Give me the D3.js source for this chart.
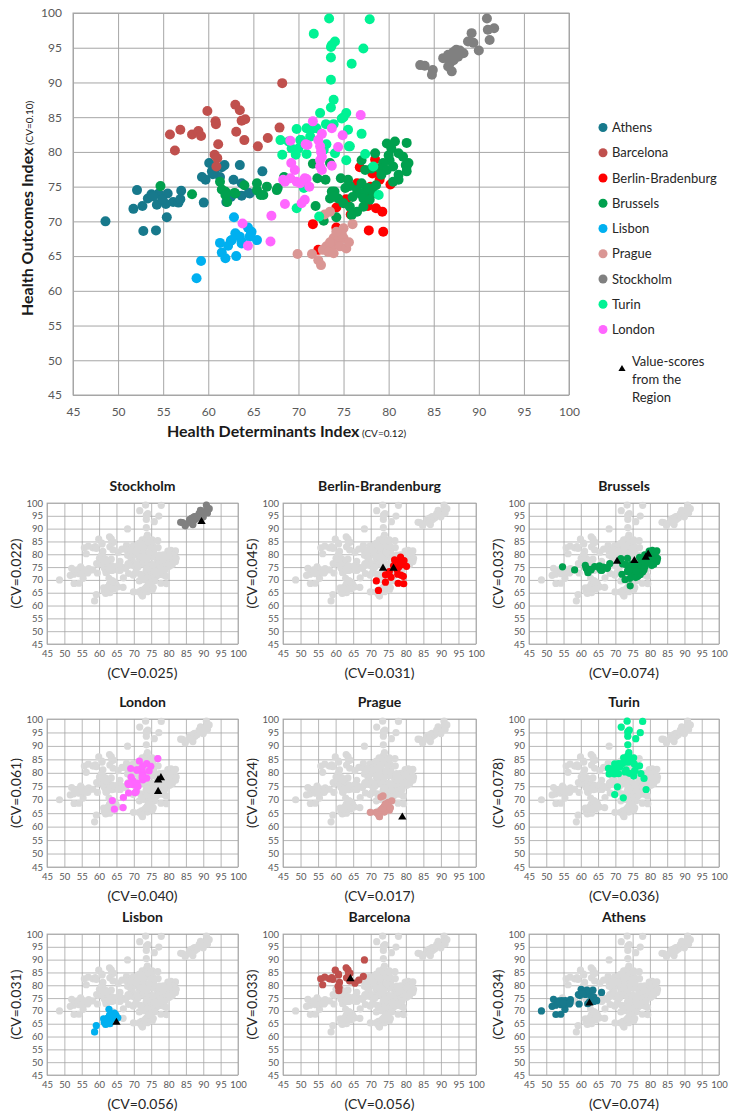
<!DOCTYPE html>
<html><head><meta charset="utf-8">
<script src="https://cdn.jsdelivr.net/npm/d3@7"></script>
<style>body{margin:0;background:#fff} text{font-family:Lato,"Open Sans",sans-serif}</style>
</head><body><svg id="c" width="735" height="1112"></svg>
<script>
// ---------- DATA ----------
const regions = ["Athens","Barcelona","Berlin-Brandenburg","Brussels","Lisbon","Prague","Stockholm","Turin","London"];
const legendLabels = ["Athens","Barcelona","Berlin-Bradenburg","Brussels","Lisbon","Prague","Stockholm","Turin","London"];
const colors = ["#17798C","#C0504D","#FF0000","#00A04E","#00B0F0","#DA9694","#808080","#00F294","#FF66FF"];
const ticks = [45,50,55,60,65,70,75,80,85,90,95,100];

const athens = [[48.6,70.0],[52.1,74.5],[51.7,71.8],[52.7,72.2],[52.8,68.6],[53.3,73.3],[53.7,73.9],[54.3,72.4],[54.2,68.7],[54.5,74.0],[55.5,74.0],[55.4,70.6],[55.3,72.5],[56.1,72.8],[56.7,72.7],[57.0,74.4],[56.9,73.2],[53.9,73.6],[54.9,73.2],[59.5,72.7],[59.7,76.0],[59.3,76.4],[60.1,78.4],[60.4,77.2],[60.7,77.2],[61.8,78.1],[61.3,76.4],[63.5,78.1],[62.8,76.0],[63.7,75.5],[62.0,72.8],[63.7,73.7],[64.5,74.1],[64.6,74.0],[66.0,77.2],[62.5,73.5],[61.5,77.8],[60.5,76.8]];
const barcelona = [[55.75,82.5],[56.9,83.2],[56.3,80.2],[58.2,82.5],[58.9,83.0],[59.2,82.3],[59.9,85.9],[60.8,84.4],[60.85,84.0],[61.1,81.1],[60.7,79.6],[61.0,79.1],[60.9,77.9],[63.0,86.8],[63.5,86.0],[63.7,84.5],[64.1,84.7],[63.1,82.9],[64.0,81.7],[65.5,80.8],[66.6,82.0],[67.9,83.5],[68.2,89.9]];
const berlin = [[80.2,75.3],[75.3,73.2],[74.2,72.0],[71.6,69.6],[74.2,69.1],[77.7,72.2],[78.6,71.9],[79.3,71.4],[77.8,68.7],[79.4,68.5],[72.2,65.9],[78.5,78.9],[76.8,77.8],[78.2,76.9],[76.5,75.5],[77.5,74.0],[79.0,76.0],[75.8,71.0],[78.0,75.0],[79.5,77.5]];
const brussels = [[54.7,75.1],[58.2,73.9],[61.3,75.7],[61.5,74.6],[61.9,74.3],[61.9,73.8],[62.1,72.8],[62.9,74.1],[63.0,74.0],[64.0,75.2],[65.4,74.5],[65.4,75.5],[65.8,73.8],[66.1,73.8],[66.5,75.0],[67.7,74.8],[67.6,74.5],[68.4,76.4],[71.6,78.3],[72.1,76.2],[73.0,76.0],[73.5,78.4],[73.8,74.1],[71.9,72.2],[72.8,70.1],[73.5,73.3],[74.2,70.6],[74.7,76.2],[75.2,74.8],[75.7,75.1],[76.5,74.5],[77.0,75.5],[76.8,74.0],[77.4,74.3],[77.2,73.3],[77.7,74.8],[78.3,74.0],[78.6,75.2],[74.0,74.3],[74.4,73.3],[75.0,72.6],[75.7,72.1],[76.5,71.4],[75.9,70.9],[77.2,72.1],[77.9,73.1],[79.8,81.2],[80.7,81.5],[82.0,81.3],[80.3,80.5],[81.1,79.8],[81.6,79.3],[82.2,78.4],[82.0,77.9],[80.1,78.8],[79.4,78.4],[79.0,77.6],[79.8,77.4],[80.5,77.9],[81.1,76.7],[79.2,76.7],[78.1,77.6],[77.4,77.4],[77.0,78.8],[80.5,75.7],[81.9,78.1],[82.0,77.2],[81.1,76.0],[74.3,67.7],[73.7,74.3],[73.9,73.6],[76.0,73.5],[75.5,76.0],[80.0,79.5],[78.5,79.8]];
const lisbon = [[62.85,70.6],[61.3,66.9],[61.5,65.5],[61.9,64.7],[63.1,65.0],[62.5,67.2],[63.1,68.1],[63.5,67.8],[63.7,67.1],[64.4,69.1],[64.8,68.5],[64.7,68.1],[65.4,67.3],[59.2,64.3],[58.7,61.8],[63.0,68.3],[62.6,67.3],[63.7,66.8],[64.6,67.8],[62.2,66.5]];
const prague = [[73.5,71.4],[75.0,69.0],[76.0,69.6],[73.9,67.6],[74.4,67.3],[75.0,67.6],[73.9,66.6],[74.6,66.4],[73.1,66.4],[72.7,65.9],[73.3,65.6],[73.9,65.4],[75.3,66.1],[71.5,65.3],[72.2,64.4],[72.5,63.7],[69.9,65.3],[74.8,68.2],[73.5,67.0],[74.2,68.5],[75.6,67.0],[72.9,71.0]];
const stockholm = [[83.5,92.5],[84.0,92.4],[84.9,91.8],[84.8,91.1],[86.05,93.5],[86.6,94.0],[87.2,94.4],[87.5,94.7],[87.9,94.6],[88.3,94.2],[87.7,93.7],[87.2,93.2],[86.8,92.8],[87.0,91.6],[86.6,92.3],[88.8,95.9],[89.2,97.1],[89.4,95.7],[90.0,94.6],[90.9,99.2],[91.0,97.6],[91.7,97.8],[91.2,96.1]];
const turin = [[73.4,99.2],[77.9,99.1],[71.7,97.0],[74.05,95.9],[73.7,95.4],[73.6,95.1],[77.2,94.9],[73.6,93.6],[75.9,92.7],[73.6,90.4],[73.9,87.5],[73.6,86.4],[72.4,85.6],[75.3,85.6],[75.0,85.0],[73.05,84.0],[73.9,84.0],[70.9,83.4],[71.5,83.3],[75.5,83.2],[77.0,82.6],[70.2,81.7],[75.6,80.8],[70.9,79.7],[72.8,80.3],[74.05,79.8],[77.4,79.7],[75.3,78.8],[78.3,77.9],[78.9,73.8],[68.0,81.7],[68.2,79.6],[68.9,81.5],[69.8,83.3],[70.3,81.7],[71.3,82.2],[72.0,83.4],[69.7,79.6],[74.8,84.8],[69.25,80.5],[70.0,80.5],[73.1,81.1],[75.7,80.8],[69.8,71.9],[72.3,70.7],[70.6,74.8]];
const london = [[76.9,85.3],[71.6,84.4],[73.7,83.4],[74.9,82.4],[69.1,81.6],[71.0,81.0],[72.2,81.7],[72.4,80.8],[74.4,80.7],[72.5,80.0],[72.6,79.3],[69.2,78.4],[69.6,77.4],[72.4,77.9],[72.6,77.4],[73.7,78.0],[68.3,76.0],[69.1,76.2],[69.8,75.7],[70.2,75.5],[70.7,76.2],[68.5,75.7],[70.9,76.1],[68.5,72.5],[70.35,72.6],[70.7,73.1],[67.0,70.8],[66.9,67.1],[63.8,69.7],[64.4,66.5],[70.8,81.1],[72.4,78.8],[72.6,82.6],[71.2,75.0]];
const seriesPoints = [athens,barcelona,berlin,brussels,lisbon,prague,stockholm,turin,london];

// value-scores from the region (black triangles)
const athensTri = [[62.5,73.0]];
const barcelonaTri = [[64.2,82.5]];
const berlinTri = [[73.5,74.5],[76.5,74.5]];
const brusselsTri = [[70.5,77.2],[75.5,77.5],[78.8,78.8],[79.5,80.0]];
const lisbonTri = [[65.0,65.5]];
const pragueTri = [[79.0,63.5]];
const stockholmTri = [[89.5,92.7]];
const turinTri = [];
const londonTri = [[77.0,77.3],[77.8,78.1],[77.0,73.0]];
const seriesTri = [athensTri,barcelonaTri,berlinTri,brusselsTri,lisbonTri,pragueTri,stockholmTri,turinTri,londonTri];

const panelOrder = ["Stockholm","Berlin-Brandenburg","Brussels","London","Prague","Turin","Lisbon","Barcelona","Athens"];
const panelCVx = ["0.025","0.031","0.074","0.040","0.017","0.036","0.056","0.056","0.074"];
const panelCVy = ["0.022","0.045","0.037","0.061","0.024","0.078","0.031","0.033","0.034"];

// ---------- DRAW ----------
const svg = d3.select("#c");
const gridColor = "#A6A6A6", tickColor = "#595959";

function drawPanel(g, L, R, T, B, opt) {
  const x = d3.scaleLinear([45,100],[L,R]);
  const y = d3.scaleLinear([45,100],[B,T]);
  const xa = g.append("g").attr("transform",`translate(0,${B})`)
    .call(d3.axisBottom(x).tickValues(ticks).tickSizeInner(-(B-T)).tickSizeOuter(0).tickPadding(opt.padX));
  const ya = g.append("g").attr("transform",`translate(${L},0)`)
    .call(d3.axisLeft(y).tickValues(ticks).tickSizeInner(-(R-L)).tickSizeOuter(0).tickPadding(opt.padY));
  [xa,ya].forEach(a=>{
    a.select(".domain").remove();
    a.selectAll("line").attr("stroke",gridColor).attr("stroke-width",opt.gw);
    a.selectAll("text").attr("fill",tickColor).style("font-size",opt.fs+"px").style("font-family","Lato,'Open Sans',sans-serif");
  });
  g.append("rect").attr("x",L).attr("y",T).attr("width",R-L).attr("height",B-T)
    .attr("fill","none").attr("stroke",gridColor).attr("stroke-width",opt.gw);
  return {x,y};
}

// main chart
const main = svg.append("g");
const M = drawPanel(main, 73, 569, 13, 395, {padX:12, padY:11, gw:1, fs:12});
seriesPoints.forEach((pts,i)=>{
  main.append("g").selectAll("circle").data(pts).join("circle")
    .attr("cx",d=>M.x(d[0])).attr("cy",d=>M.y(d[1])).attr("r",5).attr("fill",colors[i]);
});
// axis titles
const yt = main.append("text").attr("transform","translate(33,316) rotate(-90)")
  .attr("text-anchor","start").attr("fill","#1a1a1a");
yt.append("tspan").text("Health Outcomes Index").style("font-weight","bold").style("font-size","16px");
yt.append("tspan").text(" (CV=0.10)").style("font-size","10px");
const xt = main.append("text").attr("x",167).attr("y",437).attr("fill","#1a1a1a");
xt.append("tspan").text("Health Determinants Index").style("font-weight","bold").style("font-size","16px");
xt.append("tspan").text(" (CV=0.12)").style("font-size","10px");

// legend
const lg = svg.append("g");
legendLabels.forEach((lab,i)=>{
  const cy = 127.5 + i*25.25;
  lg.append("circle").attr("cx",603).attr("cy",cy).attr("r",4.5).attr("fill",colors[i]);
  lg.append("text").attr("x",612).attr("y",cy+4.5).text(lab).style("font-size","13px").attr("fill","#262626");
});
lg.append("path").attr("d",d3.symbol(d3.symbolTriangle,22)()).attr("transform","translate(622,369)").attr("fill","#000");
["Value-scores","from the","Region"].forEach((t,i)=>{
  lg.append("text").attr("x",632).attr("y",366+i*17.8).text(t).style("font-size","13px").attr("fill","#262626");
});

// small multiples
const cols = [[47,238],[283,476],[529,719]];
const rows = [[503,644],[719,867],[934,1075]];
panelOrder.forEach((name,k)=>{
  const [L,R] = cols[k%3], [T,B] = rows[Math.floor(k/3)];
  const idx = regions.indexOf(name);
  const g = svg.append("g");
  const P = drawPanel(g, L, R, T, B, {padX:6, padY:4, gw:0.8, fs:9.5});
  // all points in light gray
  g.append("g").selectAll("circle").data(seriesPoints.flat()).join("circle")
    .attr("cx",d=>P.x(d[0])).attr("cy",d=>P.y(d[1])).attr("r",3.6).attr("fill","#D9D9D9");
  g.append("g").selectAll("circle").data(seriesPoints[idx]).join("circle")
    .attr("cx",d=>P.x(d[0])).attr("cy",d=>P.y(d[1])).attr("r",3.6).attr("fill",colors[idx]);
  g.append("g").selectAll("path").data(seriesTri[idx]).join("path")
    .attr("d",d3.symbol(d3.symbolTriangle,30)())
    .attr("transform",d=>`translate(${P.x(d[0])},${P.y(d[1])})`).attr("fill","#000");
  g.append("text").attr("x",(L+R)/2).attr("y",T-12).attr("text-anchor","middle")
    .text(name).style("font-size","14px").style("font-weight","bold").attr("fill","#1a1a1a");
  g.append("text").attr("x",(L+R)/2).attr("y",B+34).attr("text-anchor","middle")
    .text(`(CV=${panelCVx[k]})`).style("font-size","14px").attr("fill","#262626");
  g.append("text").attr("transform",`translate(${L-26},${(T+B)/2}) rotate(-90)`).attr("text-anchor","middle")
    .text(`(CV=${panelCVy[k]})`).style("font-size","14px").attr("fill","#262626");
});
</script></body></html>
